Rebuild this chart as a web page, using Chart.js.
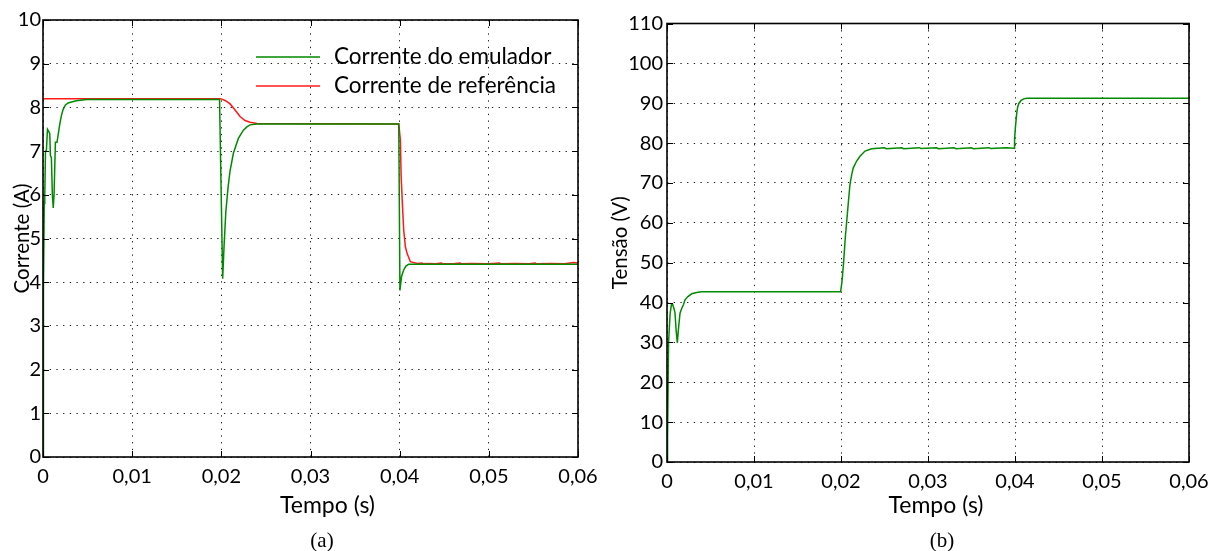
<!DOCTYPE html>
<html><head><meta charset="utf-8">
<script src="https://cdn.jsdelivr.net/npm/chart.js@4.4.1/dist/chart.umd.min.js"></script>
<style>
html,body{margin:0;padding:0;background:#fff;}
#wrap{position:relative;width:1208px;height:551px;overflow:hidden;background:#fff;}
canvas{position:absolute;top:0;}
#ca{left:0}
#cb{left:604px}
.cap{position:absolute;font-family:"Liberation Serif","Times New Roman",serif;font-size:21px;color:#000;transform:translate(-50%,-50%);white-space:nowrap;}
</style></head><body>
<div id="wrap">
<canvas id="ca" width="604" height="551"></canvas>
<canvas id="cb" width="604" height="551"></canvas>
<div class="cap" style="left:322px;top:540px">(a)</div>
<div class="cap" style="left:942px;top:540px">(b)</div>
</div>
<script>
// ---- tick labels ----
const xTickValues = [0, 0.01, 0.02, 0.03, 0.04, 0.05, 0.06];
const xTickLabels = ['0', '0,01', '0,02', '0,03', '0,04', '0,05', '0,06'];
const yTicksA = [0,1,2,3,4,5,6,7,8,9,10];
const yTicksB = [0,10,20,30,40,50,60,70,80,90,100,110];

// ---- (a) Corrente do emulador ----
const tEmu = [0,0.00002,0.00005,0.00008,0.00014,0.0002,0.00028,0.00038,0.0005,0.00064,0.00076,0.00083,0.00094,0.00105,0.00115,0.00124,0.00139,0.00157,0.00172,0.00187,0.00205,0.00225,0.0025,0.00281,0.0033,0.00375,0.00487,
  0.0198,0.02015,0.0203,0.0205,0.02077,0.02098,0.02135,0.02191,0.02247,0.0229,0.02322,0.02398,
  0.0399,0.04003,0.04021,0.04045,0.0407,0.04101,0.06];
const iEmu = [0,1.2,1.2,3.8,5.8,6.0,7.0,7.0,7.5,7.45,7.4,6.9,6.85,6.0,5.7,6.0,7.2,7.2,7.4,7.6,7.8,7.95,8.05,8.1,8.13,8.15,8.18,
  8.18,4.08,4.8,5.6,6.2,6.55,6.95,7.29,7.48,7.56,7.6,7.62,
  7.62,3.81,4.13,4.28,4.37,4.41,4.41];

// ---- (a) Corrente de referência ----
const tRef = [0,0.0199,0.0203,0.0206,0.02098,0.02154,0.0221,0.02266,0.02322,0.024,
  0.0399,0.04008,0.04016,0.0403,0.04045,0.04064,0.04083,0.0412,0.04196,
  0.0425,0.0426,0.0433,0.044,0.0447,0.0448,0.046,0.0468,0.0469,0.048,0.05,0.0512,0.0513,0.053,0.0545,0.0552,0.0553,0.057,0.0585,0.0595,0.06];
const iRef = [8.2,8.2,8.17,8.14,8.08,7.94,7.79,7.7,7.66,7.63,
  7.62,7.25,6.45,5.81,5.2,4.81,4.66,4.47,4.43,
  4.44,4.42,4.43,4.42,4.44,4.42,4.42,4.44,4.42,4.43,4.42,4.44,4.42,4.43,4.42,4.44,4.42,4.43,4.42,4.45,4.44];

// ---- (b) Tensão ----
const tVolt = [0,0.00004,0.00009,0.00018,0.00035,0.0005,0.00065,0.0008,0.00092,0.00105,0.00119,0.0013,0.0015,0.00169,0.0019,0.00207,0.0024,0.00284,0.0034,0.004,
  0.01995,0.0201,0.0203,0.0205,0.02066,0.02084,0.02103,0.02123,0.02141,0.0218,0.02218,0.02276,0.02353,
  0.025,0.0252,0.027,0.0272,0.029,0.0292,0.031,0.0312,0.033,0.0332,0.035,0.0352,0.037,0.0372,0.039,
  0.0399,0.03995,0.04005,0.0402,0.0403,0.04045,0.0407,0.041,0.0414,0.06];
const vVolt = [0,20,6.5,30,37,39.4,39.5,38.5,37.4,33,29.9,33,37.4,38.5,39.5,40.7,41.5,42.2,42.5,42.7,
  42.7,45,50,56.5,60.4,65.0,69.6,72.1,73.8,75.5,76.7,78.0,78.6,
  78.85,78.6,78.8,78.6,78.85,78.65,78.8,78.6,78.85,78.6,78.8,78.6,78.85,78.65,78.8,
  78.7,81,84,87.5,89,90,90.7,91.1,91.25,91.25];

const GREEN = '#008a00';
const RED = '#ff1a1a';

function pts(xs, ys){ return xs.map((x,i)=>({x:x, y:ys[i]})); }
function xLabel(v){
  const i = xTickValues.findIndex(t => Math.abs(t - v) < 1e-9);
  return i >= 0 ? xTickLabels[i] : '';
}

Chart.defaults.font.family = 'Lato, "Open Sans", sans-serif';
Chart.defaults.font.size = 20;
Chart.defaults.color = '#000';
Chart.defaults.animation = false;

const framePlugin = {
  id: 'frame',
  afterDatasetsDraw(chart){
    const {ctx, chartArea:a, scales:{x, y}} = chart;
    ctx.save();
    ctx.strokeStyle = '#000';
    ctx.lineWidth = 1;
    const L = 6;
    ctx.beginPath();
    x.ticks.forEach(t => {
      const px = Math.round(x.getPixelForValue(t.value)) + 0.5;
      ctx.moveTo(px, a.bottom); ctx.lineTo(px, a.bottom - L);
      ctx.moveTo(px, a.top); ctx.lineTo(px, a.top + L);
    });
    y.ticks.forEach(t => {
      const py = Math.round(y.getPixelForValue(t.value)) + 0.5;
      ctx.moveTo(a.left, py); ctx.lineTo(a.left + L, py);
      ctx.moveTo(a.right, py); ctx.lineTo(a.right - L, py);
    });
    ctx.stroke();
    ctx.lineWidth = 1.6;
    ctx.strokeRect(a.left, a.top, a.right - a.left, a.bottom - a.top);
    ctx.restore();
  }
};

const xTitlePlugin = {
  id: 'xTitle',
  afterDraw(chart, args, opts){
    if (!opts || !opts.text) return;
    const {ctx, chartArea:a} = chart;
    ctx.save();
    ctx.font = '23px Lato, "Open Sans", sans-serif';
    ctx.fillStyle = '#000';
    ctx.textAlign = 'center';
    ctx.textBaseline = 'middle';
    ctx.fillText(opts.text, (a.left + a.right) / 2 + opts.dx, a.bottom + opts.dy);
    ctx.restore();
  }
};

const legendPlugin = {
  id: 'innerLegend',
  afterDraw(chart, args, opts){
    if (!opts || !opts.show) return;
    const {ctx, chartArea:a} = chart;
    ctx.save();
    ctx.font = '22.5px Lato, "Open Sans", sans-serif';
    ctx.textAlign = 'left';
    ctx.textBaseline = 'middle';
    chart.data.datasets.forEach((ds, i) => {
      const yy = a.top + opts.top + i * opts.rowGap;
      ctx.strokeStyle = ds.borderColor;
      ctx.lineWidth = 1.5;
      ctx.beginPath();
      ctx.moveTo(a.right - opts.lineStart, yy);
      ctx.lineTo(a.right - opts.lineEnd, yy);
      ctx.stroke();
      ctx.fillStyle = '#000';
      ctx.fillText(ds.label, a.right - opts.textStart, yy);
    });
    ctx.restore();
  }
};

function makeScales(yMin, yMax, yStep, yTitle, yTitlePad, yWidth, xHeight, yPad){
  const dash = [1.3, 5.4];
  return {
    x: {
      type: 'linear', min: 0, max: 0.06,
      afterBuildTicks: s => { s.ticks = xTickValues.map(v => ({value: v})); },
      ticks: { callback: v => xLabel(v), padding: 8, maxRotation: 0, autoSkip: false, color: '#000', font: {size: 20} },
      grid: { color: '#1a1a1a', lineWidth: 1, drawTicks: false },
      border: { display: false, dash: dash },
      afterFit: s => { s.height = xHeight; s.paddingLeft = 0; s.paddingRight = 0; }
    },
    y: {
      type: 'linear', min: yMin, max: yMax,
      ticks: { stepSize: yStep, padding: yPad, color: '#000', font: {size: 20} },
      grid: { color: '#1a1a1a', lineWidth: 1, drawTicks: false },
      border: { display: false, dash: dash },
      title: { display: true, text: yTitle, color: '#000', font: {size: 20.5}, padding: {top: yTitlePad, bottom: 0} },
      afterFit: s => { s.width = yWidth; s.paddingTop = 0; s.paddingBottom = 0; }
    }
  };
}

new Chart(document.getElementById('ca'), {
  type: 'line',
  data: {
    datasets: [
      { label: 'Corrente do emulador', data: pts(tEmu, iEmu), borderColor: GREEN, borderWidth: 1.5, pointRadius: 0, tension: 0, fill: false },
      { label: 'Corrente de referência', data: pts(tRef, iRef), borderColor: RED, borderWidth: 1.5, pointRadius: 0, tension: 0, fill: false }
    ]
  },
  options: {
    responsive: false, devicePixelRatio: 1, animation: false,
    layout: { padding: { left: 0, top: 20, right: 26, bottom: 0 } },
    scales: makeScales(0, 10, 1, 'Corrente (A)', 10, 43, 94, 2),
    plugins: {
      legend: { display: false }, tooltip: { enabled: false },
      xTitle: { text: 'Tempo (s)', dx: 17, dy: 49 },
      innerLegend: { show: true, top: 37, rowGap: 29, lineStart: 322, lineEnd: 258, textStart: 244 }
    }
  },
  plugins: [framePlugin, xTitlePlugin, legendPlugin]
});

new Chart(document.getElementById('cb'), {
  type: 'line',
  data: {
    datasets: [
      { label: 'Tensão', data: pts(tVolt, vVolt), borderColor: GREEN, borderWidth: 1.5, pointRadius: 0, tension: 0, fill: false }
    ]
  },
  options: {
    responsive: false, devicePixelRatio: 1, animation: false,
    layout: { padding: { left: 0, top: 23.5, right: 19, bottom: 0 } },
    scales: makeScales(0, 110, 10, 'Tensão (V)', 4, 63, 89, 4),
    plugins: {
      legend: { display: false }, tooltip: { enabled: false },
      xTitle: { text: 'Tempo (s)', dx: 8, dy: 44 },
      innerLegend: { show: false }
    }
  },
  plugins: [framePlugin, xTitlePlugin, legendPlugin]
});
</script>
</body></html>
